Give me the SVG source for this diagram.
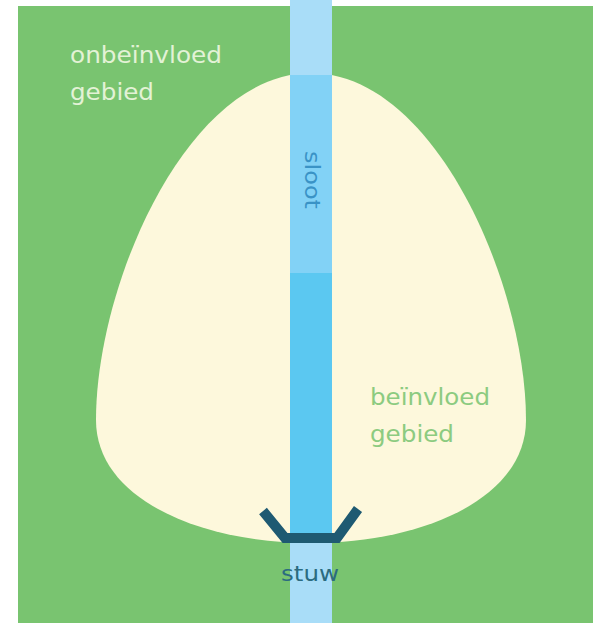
<svg xmlns="http://www.w3.org/2000/svg" width="593" height="623" viewBox="0 0 593 623">
  <style>
    .lbl { font-family: "DejaVu Sans", "Liberation Sans", sans-serif; }
  </style>
  <rect x="0" y="0" width="593" height="623" fill="#ffffff"/>
  <g id="onbeinvloed-gebied">
    <rect x="18" y="6" width="575" height="617" fill="#79c470"/>
    <text class="lbl" x="70" y="63" font-size="23" fill="#e3f2d6" textLength="152" lengthAdjust="spacingAndGlyphs">onbeïnvloed</text>
    <text class="lbl" x="70" y="100" font-size="23" fill="#e3f2d6" textLength="84" lengthAdjust="spacingAndGlyphs">gebied</text>
  </g>
  <g id="beinvloed-gebied">
    <path d="M311,73 C435,73 526,285 526,420 C526,500 420,543 311,543 C202,543 96,500 96,420 C96,285 187,73 311,73 Z" fill="#fdf8dc"/>
    <text class="lbl" x="370" y="405" font-size="23" fill="#8ccb80" textLength="120" lengthAdjust="spacingAndGlyphs">beïnvloed</text>
    <text class="lbl" x="370" y="442" font-size="23" fill="#8ccb80" textLength="84" lengthAdjust="spacingAndGlyphs">gebied</text>
  </g>
  <g id="sloot">
    <rect x="290" y="0" width="42" height="623" fill="#a9ddf8"/>
    <rect x="290" y="75" width="42" height="198" fill="#82d2f6"/>
    <rect x="290" y="273" width="42" height="267" fill="#5bc8f1"/>
    <text class="lbl" transform="translate(305,180) rotate(90)" x="0" y="0" font-size="21" fill="#3a93c6" text-anchor="middle" textLength="58" lengthAdjust="spacingAndGlyphs">sloot</text>
  </g>
  <g id="stuw">
    <polyline points="263,511 285,538 337,538 358,509" fill="none" stroke="#1e5a72" stroke-width="10" stroke-linejoin="miter"/>
    <text class="lbl" x="310" y="581" font-size="22" fill="#2b6b80" text-anchor="middle" textLength="58" lengthAdjust="spacingAndGlyphs">stuw</text>
  </g>
  <g id="connectors"></g>
</svg>
